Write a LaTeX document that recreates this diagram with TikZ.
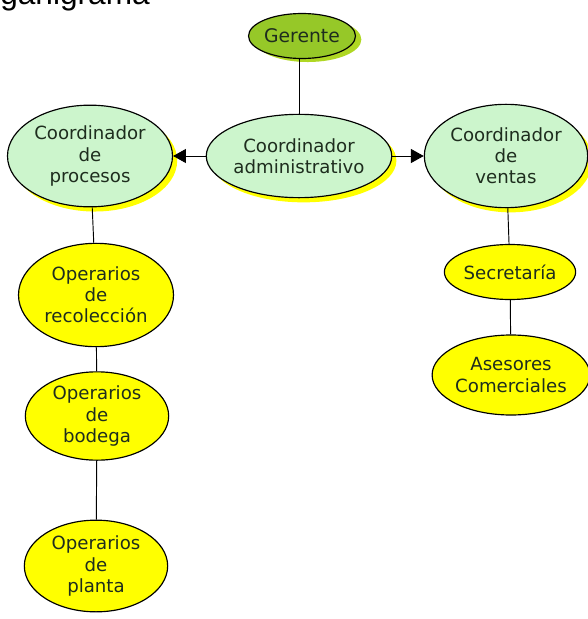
\documentclass[tikz,border=0pt]{standalone}
\usepackage{fontspec}
\setmainfont{DejaVu Sans}
\newfontfamily\titlefont{Liberation Sans}
\usepackage{tikz}
\usetikzlibrary{positioning}
\usetikzlibrary{arrows.meta}
\usetikzlibrary{shapes}
\usetikzlibrary{shadows}
\definecolor{verdeclaro}{RGB}{204,245,204}
\definecolor{verdeoscuro}{RGB}{150,200,40}
\definecolor{verdesombra}{RGB}{175,215,35}
\definecolor{amarillo}{RGB}{255,255,0}
\definecolor{texto}{RGB}{30,45,30}
\tikzset{basic/.style={draw,ellipse,line width=1pt,align=center,inner sep=0pt,text=texto,font=\fontsize{15.5}{18}\selectfont}}
\tikzset{jefe/.style={basic,fill=verdeoscuro,general shadow={fill=verdesombra,shadow xshift=5pt,shadow yshift=-3pt}}}
\tikzset{cargo/.style={basic,fill=verdeclaro,general shadow={fill=amarillo,shadow xshift=4pt,shadow yshift=-4pt}}}
\tikzset{operario/.style={basic,fill=amarillo}}
\tikzset{flecha/.style={-{Triangle[length=11pt,width=12pt]}}}
\tikzset{linea/.style={line width=0.8pt}}

\begin{document}
\begin{tikzpicture}[x=0.03cm,y=-0.03cm]
        \useasboundingbox (0,0) rectangle (587,619);
        \node[font=\titlefont\fontsize{27}{30}\selectfont,anchor=base east,inner sep=0pt] (titulo) at (150,5) {Organigrama};
        % cabeza
        \node[jefe,minimum width=2.75cm,minimum height=1.35cm,font=\fontsize{16}{18}\selectfont] (gerente) at (302,36) {Gerente};
        \node[cargo,minimum width=5.15cm,minimum height=2.5cm] (admin) at (299,156) {Coordinador\\administrativo};
            \draw[linea] (admin.north) -- (admin.north |- gerente.south);
        \node[cargo,minimum width=4.95cm,minimum height=3.05cm] (procesos) at (90,156) {Coordinador\\de\\procesos};
            \draw[linea,flecha] (admin) -- (procesos);
        \node[cargo,minimum width=4.9cm,minimum height=3.1cm] (ventas) at (506,156) {Coordinador\\de\\ventas};
            \draw[linea,flecha] (admin) -- (ventas);
        % ventas
        \node[operario,minimum width=3.55cm,minimum height=1.65cm] (secretaria) at (510,272) {Secretaría};
            \draw[linea] (ventas) -- (secretaria);
        \node[operario,minimum width=4.5cm,minimum height=2.4cm] (asesores) at (511,375) {Asesores\\Comerciales};
            \draw[linea] (secretaria) -- (asesores);
        % procesos
        \node[operario,minimum width=4.65cm,minimum height=3.1cm] (recoleccion) at (96,295) {Operarios\\de\\recolección};
            \draw[linea] (procesos) -- (recoleccion);
        \node[operario,minimum width=4.3cm,minimum height=2.65cm] (bodega) at (97,416) {Operarios\\de\\bodega};
            \draw[linea] (recoleccion) -- (bodega);
        \node[operario,minimum width=4.3cm,minimum height=2.75cm] (planta) at (96,566) {Operarios\\de\\planta};
            \draw[linea] (bodega) -- (planta);
\end{tikzpicture}
\end{document}
